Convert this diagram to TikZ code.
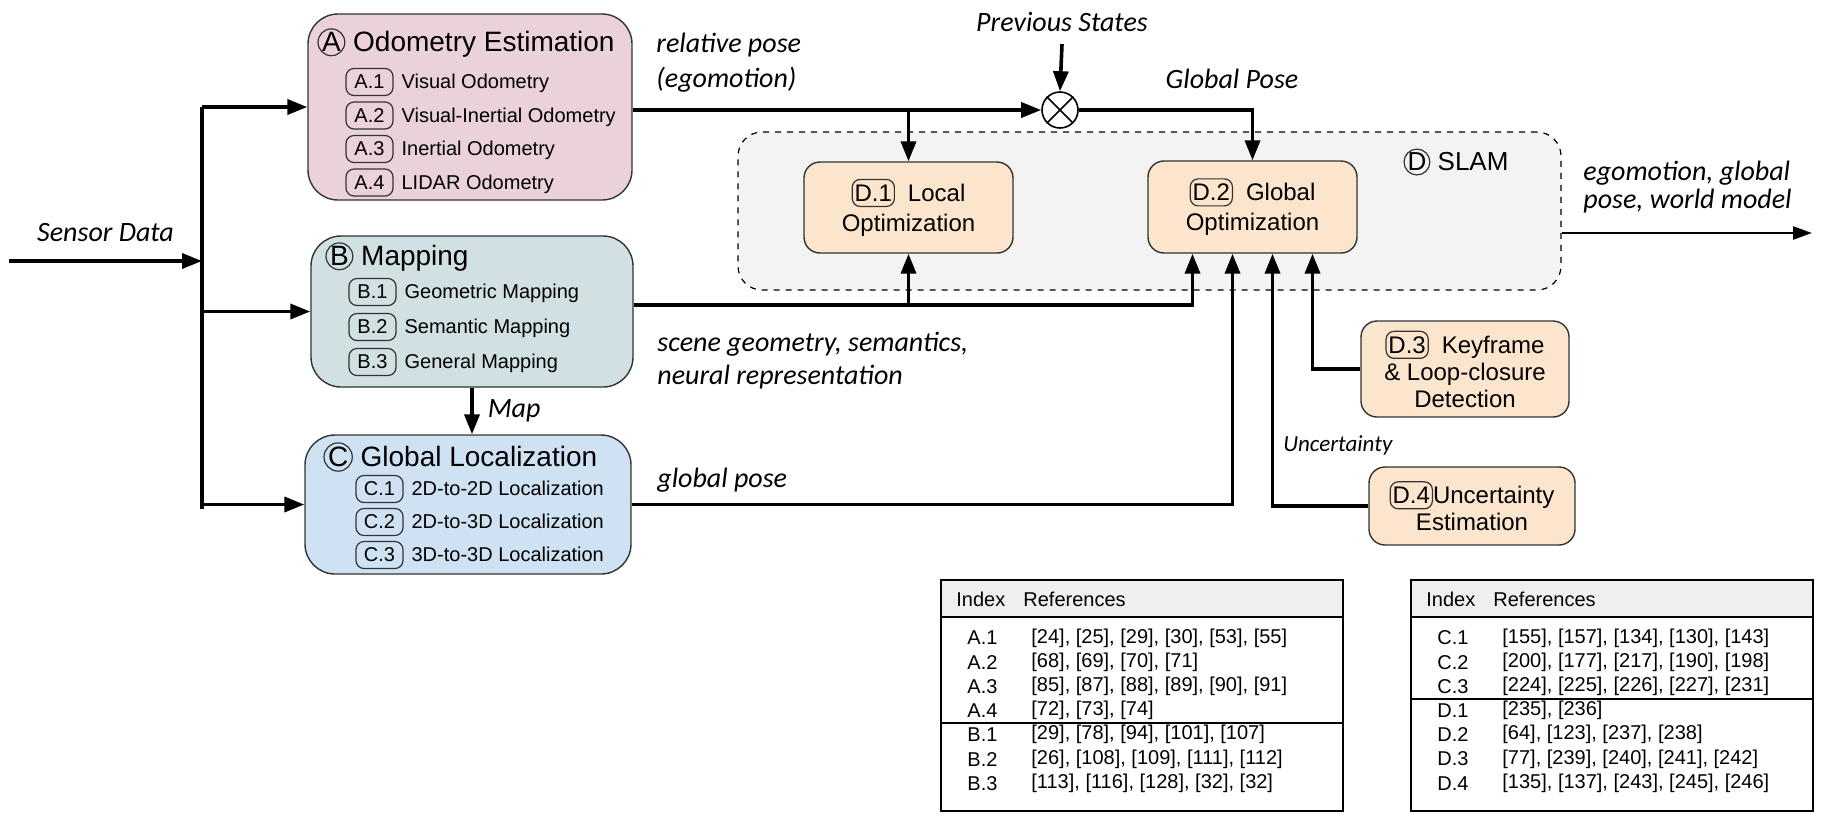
\documentclass[tikz,border=0pt]{standalone}
\usepackage{fontspec}
\setmainfont{Liberation Sans}
\newfontfamily\notefont{Carlito}
\usetikzlibrary{arrows.meta, positioning}
\definecolor{odofill}{HTML}{EAD1DC}
\definecolor{mapfill}{HTML}{D0E0E3}
\definecolor{locfill}{HTML}{CFE2F3}
\definecolor{slamfill}{HTML}{FCE5CD}
\definecolor{backfill}{HTML}{F3F3F3}
\definecolor{headfill}{HTML}{EFEFEF}
\definecolor{edge}{HTML}{333333}
\newcommand*{\badge}[2][23.5pt]{\tikz[baseline=(b.base)]\node (b) [draw=edge, line width=0.6pt, rounded corners=4pt, inner xsep=1.2pt, inner ysep=0pt, minimum width=#1, minimum height=13.5pt] {#2};}
\newcommand*{\circled}[1]{\tikz[baseline=(c.base)]\node (c) [draw=edge, line width=0.6pt, circle, inner sep=0pt, minimum size=0.95em] {#1};}
\tikzstyle{module} = [draw=edge, line width=0.7pt, rectangle, rounded corners=15pt]
\tikzstyle{stage} = [draw=edge, line width=0.7pt, fill=slamfill, rectangle, rounded corners=8pt, align=center, font=\fontsize{12}{15}\selectfont, inner sep=0pt]
\tikzstyle{title} = [font=\fontsize{14}{17}\selectfont, inner sep=0pt, anchor=west]
\tikzstyle{item} = [font=\fontsize{10}{12}\selectfont, inner sep=0pt, anchor=west]
\tikzstyle{cell} = [font=\fontsize{10}{12}\selectfont, inner sep=0pt, anchor=west]
\tikzstyle{note} = [font=\notefont\itshape\fontsize{14}{17.5}\selectfont, inner sep=0pt]
\tikzstyle{flow} = [-{Triangle[length=10pt, width=7.5pt]}, line width=1.8pt]
\tikzstyle{outflow} = [-{Triangle[length=9.5pt, width=6.5pt]}, line width=1.2pt]
\tikzstyle{bus} = [line width=1.8pt]
\tikzstyle{rule} = [line width=0.8pt]

\begin{document}
\begin{tikzpicture}[x=0.5pt, y=-0.5pt]
    \useasboundingbox (0,0) rectangle (1846,821);

    % SLAM frame.
    \node (slam) [draw, dashed, fill=backfill, line width=0.6pt, rounded corners=12pt, minimum width=411.5pt, minimum height=79pt] at (1149.5,211) {};
    \node (slamT) [title, font=\fontsize{13}{15}\selectfont] at (1403,162) {\circled{D} SLAM};

    % Modules.
    \node (odo) [module, fill=odofill, minimum width=162pt, minimum height=93pt] at (470,107) {};
    \node (map) [module, fill=mapfill, minimum width=161pt, minimum height=75.5pt] at (472,311.5) {};
    \node (loc) [module, fill=locfill, minimum width=163pt, minimum height=69.5pt] at (468,504.5) {};

    \node (odoT) [title] at (317,43) {\circled{A} Odometry Estimation};
    \node (mapT) [title] at (325,257) {\circled{B} Mapping};
    \node (locT) [title] at (323,457) {\circled{C} Global Localization};

    \foreach \txt [count=\k] in {Visual Odometry, Visual-Inertial Odometry, Inertial Odometry, LIDAR Odometry}
        \node (odo\k) [item] at (345, {82+33.5*(\k-1)}) {\badge{A.\k}\hspace{4pt}\txt};
    \foreach \txt [count=\k] in {Geometric Mapping, Semantic Mapping, General Mapping}
        \node (map\k) [item] at (348, {292+35*(\k-1)}) {\badge{B.\k}\hspace{4pt}\txt};
    \foreach \txt [count=\k] in {2D-to-2D Localization, 2D-to-3D Localization, 3D-to-3D Localization}
        \node (loc\k) [item] at (355, {489+33*(\k-1)}) {\badge{C.\k}\hspace{4pt}\txt};

    % SLAM stages.
    \node (lopt) [stage, minimum width=104.5pt, minimum height=45.5pt] at (908.5,207.5) {\badge[0pt]{D.1}\hspace{6.5pt}Local\\Optimization};
    \node (gopt) [stage, minimum width=104.5pt, minimum height=46pt] at (1252.5,207) {\badge[0pt]{D.2}\hspace{6.5pt}Global\\Optimization};
    \node (kfd) [stage, font=\fontsize{12}{13.5}\selectfont, minimum width=104pt, minimum height=48pt] at (1465,369) {\badge[0pt]{D.3}\hspace{6.5pt}Keyframe\\\& Loop-closure\\Detection};
    \node (unce) [stage, font=\fontsize{12}{13.5}\selectfont, minimum width=103pt, minimum height=39pt] at (1472,506) {\badge[0pt]{D.4}Uncertainty\\Estimation};

    \node (mix) [circle, draw, fill=white, line width=0.8pt, minimum size=18pt, inner sep=0pt] at (1060,110) {};
    \draw [line width=0.8pt] (mix.north west) -- (mix.south east) (mix.north east) -- (mix.south west);

    % Sensor input.
    \coordinate (sensorIn) at (9,261);
    \coordinate (bus) at (202,261);
    \coordinate (busEnd) at (202,509);
    \draw [flow] (sensorIn) -- node [note, above=9pt] {Sensor Data} (bus);
    \draw [bus] (bus |- odo.west) -- (busEnd);
    \foreach \m in {odo, map, loc}
        \draw [flow] (bus |- \m.west) -- (\m.west);

    \draw [flow] (map.south) -- node [note, right=7pt] {Map} (map.south |- loc.north);

    % Poses.
    \node (prev) [note] at (1062,22) {Previous States};
    \draw [flow] ([yshift=-6pt]prev.south) -- (mix.north);
    \draw [flow] (odo.east |- mix.west) -- (mix.west);
    \draw [flow] (lopt.north |- mix.west) -- (lopt.north);
    \draw [flow] (mix.east) -| (gopt.north);
    \node (relLbl) [note, anchor=west, align=left] at (656,63) {relative pose\\(egomotion)};
    \node (globLbl) [note] at (1232,79) {Global Pose};

    % Into optimization.
    \coordinate (mapOut) at ([yshift=3.25pt]map.east);
    \draw [flow] (mapOut) -| ([xshift=-30pt]gopt.south);
    \draw [flow] (lopt.south |- mapOut) -- (lopt.south);
    \draw [flow] (loc.east) -| ([xshift=-10pt]gopt.south);
    \draw [flow] (kfd.west) -| ([xshift=30pt]gopt.south);
    \draw [flow] (unce.west) -| node [note, font=\notefont\itshape\fontsize{11.5}{13}\selectfont, pos=0.62, right=4.5pt] {Uncertainty} ([xshift=10pt]gopt.south);
    \node (sceneLbl) [note, anchor=west, align=left, font=\notefont\itshape\fontsize{14}{16.5}\selectfont] at (657,361) {scene geometry, semantics,\\neural representation};
    \node (gposeLbl) [note, anchor=west] at (657,480) {global pose};

    % Output.
    \coordinate (worldOut) at (1812,233);
    \draw [outflow] (slam.east |- worldOut) -- (worldOut);
    \node (worldLbl) [note, anchor=west, align=left, font=\notefont\itshape\fontsize{14}{14}\selectfont] at (1583,187) {egomotion, global\\pose, world model};

    % Reference tables.
    \node (tabAB) [draw, rule, minimum width=201pt, minimum height=115.5pt, inner sep=0pt] at (1142,695.5) {};
    \node (tabABhead) [draw, rule, fill=headfill, anchor=north, minimum width=201pt, minimum height=18.5pt, inner sep=0pt] at (tabAB.north) {};
    \draw [rule] ([yshift=-72pt]tabAB.north west) -- ([yshift=-72pt]tabAB.north east);
    \node (tabABidx) [cell] at (956,599) {Index};
    \node (tabABref) [cell] at (1023,599) {References};
    \foreach \lab/\refs [count=\k] in {A.1/{[24], [25], [29], [30], [53], [55]}, A.2/{[68], [69], [70], [71]}, A.3/{[85], [87], [88], [89], [90], [91]}, A.4/{[72], [73], [74]}, B.1/{[29], [78], [94], [101], [107]}, B.2/{[26], [108], [109], [111], [112]}, B.3/{[113], [116], [128], [32], [32]}} {
        \node (rowAB\k) [cell] at (967, {638+24.2*(\k-1)}) {\lab};
        \node (refAB\k) [cell] at (1031, {638+24.2*(\k-1)}) {\refs};
    }

    \node (tabCD) [draw, rule, minimum width=201pt, minimum height=115.5pt, inner sep=0pt] at (1612,695.5) {};
    \node (tabCDhead) [draw, rule, fill=headfill, anchor=north, minimum width=201pt, minimum height=18.5pt, inner sep=0pt] at (tabCD.north) {};
    \draw [rule] ([yshift=-60pt]tabCD.north west) -- ([yshift=-60pt]tabCD.north east);
    \node (tabCDidx) [cell] at (1426,599) {Index};
    \node (tabCDref) [cell] at (1493,599) {References};
    \foreach \lab/\refs [count=\k] in {C.1/{[155], [157], [134], [130], [143]}, C.2/{[200], [177], [217], [190], [198]}, C.3/{[224], [225], [226], [227], [231]}, D.1/{[235], [236]}, D.2/{[64], [123], [237], [238]}, D.3/{[77], [239], [240], [241], [242]}, D.4/{[135], [137], [243], [245], [246]}} {
        \node (rowCD\k) [cell] at (1437, {638+24.2*(\k-1)}) {\lab};
        \node (refCD\k) [cell] at (1502, {638+24.2*(\k-1)}) {\refs};
    }
\end{tikzpicture}
\end{document}
